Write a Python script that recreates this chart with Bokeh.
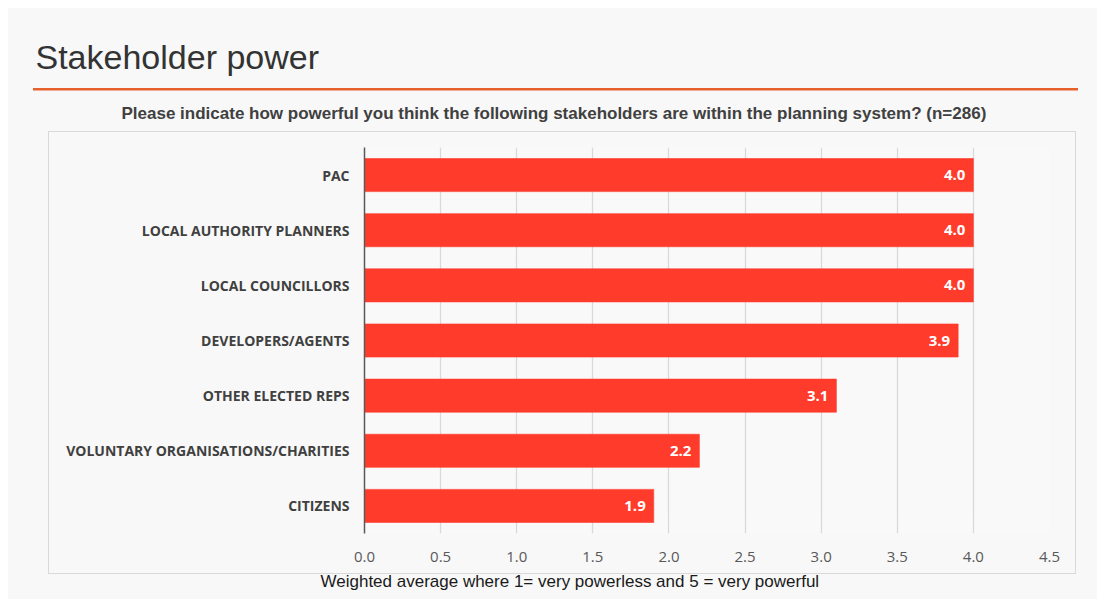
from bokeh.plotting import figure
from bokeh.models import (FactorRange, Range1d, ColumnDataSource, LabelSet, Title,
                          FixedTicker, PrintfTickFormatter)
from bokeh.core.properties import value
from bokeh.embed import file_html
from bokeh.resources import INLINE

# ---- data ----
categories = ["PAC", "LOCAL AUTHORITY PLANNERS", "LOCAL COUNCILLORS", "DEVELOPERS/AGENTS",
              "OTHER ELECTED REPS", "VOLUNTARY ORGANISATIONS/CHARITIES", "CITIZENS"]
values = [4.0, 4.0, 4.0, 3.9, 3.1, 2.2, 1.9]
x_ticks = [0.0, 0.5, 1.0, 1.5, 2.0, 2.5, 3.0, 3.5, 4.0, 4.5]
title_text = "Stakeholder power"
subtitle_text = "Please indicate how powerful you think the following stakeholders are within the planning system? (n=286)"
caption_text = "Weighted average where 1= very powerless and 5 = very powerful"

src = ColumnDataSource(dict(cat=categories, val=values, lbl=[f"{v:.1f}" for v in values]))

p = figure(width=1097, height=599,
           y_range=FactorRange(factors=categories[::-1], range_padding=0),
           x_range=Range1d(0, 4.5),
           output_backend="svg", toolbar_location=None,
           min_border_left=364, min_border_right=48, min_border_top=147, min_border_bottom=66)

p.background_fill_color = "#f9f9f9"
p.border_fill_alpha = 0
p.outline_line_color = None

# page decorations drawn behind the transparent border area
bg_layers = [
    "linear-gradient(#E8602C,#E8602C) 33px 88px / 1045px 2.5px no-repeat",
    "linear-gradient(#d9d9d9,#d9d9d9) 48px 131px / 1028px 1px no-repeat",
    "linear-gradient(#d9d9d9,#d9d9d9) 48px 573px / 1028px 1px no-repeat",
    "linear-gradient(#d9d9d9,#d9d9d9) 48px 131px / 1px 443px no-repeat",
    "linear-gradient(#d9d9d9,#d9d9d9) 1075px 131px / 1px 443px no-repeat",
    "linear-gradient(#f8f8f8,#f8f8f8) 8px 8px / 1089px 591px no-repeat",
    "#ffffff",
]
p.styles = {"background": ", ".join(bg_layers)}

p.hbar(y="cat", right="val", height=0.6, source=src, fill_color="#FF3B2B", line_color="#FF3B2B", line_alpha=0.6)

p.add_layout(LabelSet(x="val", y="cat", text="lbl", source=src, x_offset=-8,
                      text_align="right", text_baseline="middle", text_color="white",
                      text_font=value("Open Sans"), text_font_style="bold", text_font_size="15px"))

# titles (subtitle first = nearest the frame)
p.add_layout(Title(text=subtitle_text, align="left", offset=121 - 364, standoff=49,
                   text_font="Liberation Sans", text_font_style="bold", text_font_size="17px",
                   text_color="#404040"), "above")
p.add_layout(Title(text=title_text, align="left", offset=35 - 364, standoff=4,
                   text_font="Liberation Sans", text_font_style="normal", text_font_size="34px",
                   text_color="#333333"), "above")
p.add_layout(Title(text=caption_text, align="left", offset=320 - 364, standoff=11,
                   text_font="Liberation Sans", text_font_style="normal", text_font_size="17px",
                   text_color="#1a1a1a"), "below")

# axes
p.yaxis.axis_line_color = "#595959"
p.yaxis.axis_line_width = 1.5
p.yaxis.major_tick_line_color = None
p.yaxis.minor_tick_line_color = None
p.yaxis.major_label_standoff = 9
p.yaxis.major_label_text_font = "Open Sans"
p.yaxis.major_label_text_font_style = "bold"
p.yaxis.major_label_text_font_size = "14px"
p.yaxis.major_label_text_color = "#404040"

p.xaxis.axis_line_color = None
p.xaxis.major_tick_line_color = None
p.xaxis.minor_tick_line_color = None
p.xaxis.ticker = FixedTicker(ticks=x_ticks)
p.xaxis.formatter = PrintfTickFormatter(format="%.1f")
p.xaxis.major_label_standoff = 12
p.xaxis.major_label_text_font = "Open Sans"
p.xaxis.major_label_text_font_size = "15px"
p.xaxis.major_label_text_color = "#595959"

p.ygrid.grid_line_color = None
p.xgrid.grid_line_color = "#d9d9d9"
p.xgrid.grid_line_width = 1.3

open("out.html", "w").write(file_html(p, INLINE))
